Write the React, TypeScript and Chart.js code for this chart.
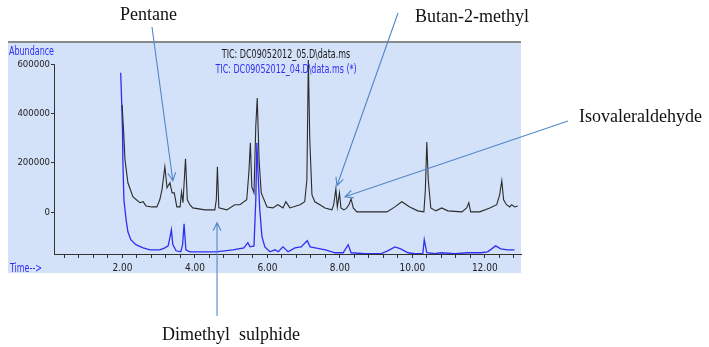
import React, { useEffect, useRef } from 'react';
import { Chart, registerables } from 'chart.js';

Chart.register(...registerables);

// ---- Data (retention time in minutes, abundance) ----
const tic05Times = [
  1.99, 2.03, 2.07, 2.15, 2.29, 2.48, 2.57, 2.65, 2.81, 2.95,
  3.03, 3.09, 3.17, 3.23, 3.31, 3.37, 3.43, 3.50, 3.59, 3.63,
  3.67, 3.74, 3.79, 3.86, 3.94, 4.28, 4.55, 4.59, 4.62, 4.66,
  4.88, 5.10, 5.24, 5.43, 5.49, 5.53, 5.57, 5.63, 5.68, 5.72,
  5.77, 5.83, 5.99, 6.15, 6.29, 6.43, 6.51, 6.62, 6.90, 7.03,
  7.09, 7.13, 7.17, 7.23, 7.31, 7.45, 7.59, 7.78, 7.83, 7.89,
  7.93, 7.99, 8.03, 8.11, 8.18, 8.25, 8.31, 8.37, 8.47, 9.30,
  9.52, 9.71, 9.93, 10.15, 10.32, 10.36, 10.40, 10.44, 10.51, 10.65,
  10.81, 10.98, 11.37, 11.50, 11.56, 11.61, 11.86, 12.14, 12.33, 12.41,
  12.47, 12.52, 12.60, 12.69, 12.74, 12.83, 12.91,
];
const tic05Values = [
  435000, 333000, 212000, 119000, 62000, 38000, 42000, 25000, 21000, 21000,
  50000, 90000, 184000, 99000, 119000, 78000, 78000, 21000, 21000, 82000,
  38000, 216000, 50000, 30000, 17000, 9000, 9000, 50000, 184000, 17000,
  9000, 30000, 30000, 50000, 163000, 281000, 102000, 78000, 350000, 463000,
  212000, 78000, 21000, 17000, 30000, 17000, 42000, 17000, 30000, 42000,
  131000, 617000, 293000, 70000, 42000, 30000, 17000, 9000, 30000, 94000,
  21000, 78000, 17000, 9000, 15000, 30000, 54000, 17000, 1000, 1000,
  21000, 42000, 21000, 5000, 1000, 90000, 284000, 131000, 17000, 5000,
  17000, 5000, 1000, 17000, 38000, 1000, 1000, 17000, 30000, 70000,
  127000, 50000, 30000, 21000, 30000, 21000, 25000,
];

// second run, drawn with the instrument's overlay offset (values as displayed)
const tic04Times = [
  1.95, 1.97, 2.00, 2.01, 2.04, 2.10, 2.15, 2.23, 2.37, 2.57,
  2.76, 3.03, 3.17, 3.26, 3.31, 3.35, 3.39, 3.48, 3.61, 3.66,
  3.70, 3.75, 3.86, 4.14, 4.58, 5.05, 5.35, 5.46, 5.52, 5.63,
  5.68, 5.71, 5.75, 5.79, 5.85, 5.93, 6.07, 6.21, 6.30, 6.43,
  6.57, 6.76, 6.93, 7.10, 7.18, 7.32, 7.60, 7.87, 8.09, 8.23,
  8.31, 8.69, 9.13, 9.32, 9.52, 9.68, 9.88, 10.07, 10.29, 10.33,
  10.40, 10.62, 10.79, 11.18, 11.53, 11.89, 12.08, 12.30, 12.44, 12.63,
  12.82,
];
const tic04Values = [
  565000, 483000, 333000, 212000, 50000, -31000, -80000, -112000, -132000, -145000,
  -153000, -153000, -145000, -137000, -104000, -72000, -132000, -157000, -161000, -132000,
  -47000, -153000, -161000, -161000, -161000, -153000, -145000, -124000, -141000, -137000,
  50000, 281000, 131000, 9000, -100000, -141000, -161000, -153000, -161000, -141000,
  -161000, -145000, -141000, -116000, -141000, -145000, -153000, -165000, -165000, -132000,
  -165000, -169000, -169000, -157000, -141000, -149000, -165000, -169000, -169000, -112000,
  -165000, -169000, -165000, -169000, -165000, -165000, -161000, -137000, -149000, -153000,
  -153000,
];

const seriesLabels = ['TIC: DC09052012_05.D\\data.ms', 'TIC: DC09052012_04.D\\data.ms (*)'];
const yTickValues = [0, 200000, 400000, 600000];
const xLabelValues = [2, 4, 6, 8, 10, 12];
const xMinorStep = 0.4;
const xMin = 0.11;
const xMax = 13.0;
const yMin = -170000;
const yMax = 686000;

// annotation labels and the (time, abundance) point each arrow points at
const annotationLabels = ['Pentane', 'Butan-2-methyl', 'Isovaleraldehyde', 'Dimethyl  sulphide'];
const annotationTargetTimes = [3.39, 7.92, 8.14, 4.61];
const annotationTargetValues = [127000, 107000, 62000, -43000];

const NARROW = '"DejaVu Sans Condensed", "Liberation Sans Narrow", sans-serif';
const SERIF = '"Liberation Serif", "Times New Roman", serif';
const BLUE_TEXT = '#2e2ef5';
const ARROW = '#5287c8';

function drawArrow(ctx: CanvasRenderingContext2D, x1: number, y1: number, x2: number, y2: number) {
  const ang = Math.atan2(y2 - y1, x2 - x1);
  const len = 9;
  const spread = 0.45;
  ctx.beginPath();
  ctx.moveTo(x1, y1);
  ctx.lineTo(x2, y2);
  ctx.moveTo(x2 - len * Math.cos(ang - spread), y2 - len * Math.sin(ang - spread));
  ctx.lineTo(x2, y2);
  ctx.lineTo(x2 - len * Math.cos(ang + spread), y2 - len * Math.sin(ang + spread));
  ctx.stroke();
}

// condensed instrument-style text (horizontally squeezed like the original software font)
function narrowText(
  ctx: CanvasRenderingContext2D,
  text: string,
  x: number,
  y: number,
  align: CanvasTextAlign,
  color: string
) {
  ctx.save();
  ctx.translate(x, y);
  ctx.scale(0.74, 1);
  ctx.font = '12px ' + NARROW;
  ctx.textBaseline = 'middle';
  ctx.textAlign = align;
  ctx.fillStyle = color;
  ctx.fillText(text, 0, 0);
  ctx.restore();
}

const panelPlugin = {
  id: 'chromPanel',
  beforeDraw(chart: any) {
    const ctx = chart.ctx as CanvasRenderingContext2D;
    ctx.save();
    ctx.fillStyle = '#ffffff';
    ctx.fillRect(0, 0, chart.width, chart.height);
    ctx.fillStyle = '#d3e2f8';
    ctx.fillRect(8, 42, 513, 231);
    ctx.fillStyle = '#8a8a8a';
    ctx.fillRect(8, 41, 513, 2);
    ctx.restore();
  },
  afterDraw(chart: any) {
    const ctx = chart.ctx as CanvasRenderingContext2D;
    const xs = chart.scales.x;
    const ys = chart.scales.y;
    const area = chart.chartArea;
    ctx.save();

    // y axis line (from top tick down to the time axis)
    ctx.strokeStyle = '#333333';
    ctx.lineWidth = 1;
    const ax = Math.round(area.left) + 0.5;
    ctx.beginPath();
    ctx.moveTo(ax, ys.getPixelForValue(yTickValues[yTickValues.length - 1]));
    ctx.lineTo(ax, area.bottom);
    ctx.stroke();

    // instrument texts
    narrowText(ctx, 'Abundance', 9, 52, 'left', BLUE_TEXT);
    narrowText(ctx, 'Time-->', 10, 269, 'left', BLUE_TEXT);
    narrowText(ctx, seriesLabels[0], 286, 55, 'center', '#1a1a1a');
    narrowText(ctx, seriesLabels[1], 286, 70, 'center', BLUE_TEXT);

    // annotations
    ctx.font = '18px ' + SERIF;
    ctx.fillStyle = '#111111';
    ctx.textAlign = 'left';
    ctx.textBaseline = 'middle';
    ctx.fillText(annotationLabels[0], 120, 15);
    ctx.fillText(annotationLabels[1], 415, 17);
    ctx.fillText(annotationLabels[2], 579, 117);
    ctx.fillText(annotationLabels[3], 162, 335);

    const tip = (i: number) => [
      xs.getPixelForValue(annotationTargetTimes[i]),
      ys.getPixelForValue(annotationTargetValues[i]),
    ];
    ctx.strokeStyle = ARROW;
    ctx.lineWidth = 1.1;
    let p = tip(0);
    drawArrow(ctx, 152, 27, p[0], p[1]);
    p = tip(1);
    drawArrow(ctx, 398, 13, p[0], p[1]);
    p = tip(2);
    drawArrow(ctx, 568, 121, p[0], p[1]);
    p = tip(3);
    drawArrow(ctx, p[0], 316, p[0], p[1]);

    ctx.restore();
  },
};

export default function App() {
  const canvasRef = useRef<HTMLCanvasElement | null>(null);

  useEffect(() => {
    if (!canvasRef.current) return;
    const tic05 = tic05Times.map((t, i) => ({ x: t, y: tic05Values[i] }));
    const tic04 = tic04Times.map((t, i) => ({ x: t, y: tic04Values[i] }));

    const chart = new Chart(canvasRef.current, {
      type: 'line',
      data: {
        datasets: [
          {
            label: seriesLabels[0],
            data: tic05,
            borderColor: '#2b2b2b',
            borderWidth: 1.1,
            pointRadius: 0,
            tension: 0,
            fill: false,
          },
          {
            label: seriesLabels[1],
            data: tic04,
            borderColor: '#2f2ff2',
            borderWidth: 1.3,
            pointRadius: 0,
            tension: 0,
            fill: false,
          },
        ],
      },
      options: {
        responsive: false,
        animation: false,
        events: [],
        layout: { padding: { left: 0, right: 188, top: 43, bottom: 0 } },
        plugins: {
          legend: { display: false },
          tooltip: { enabled: false },
          title: { display: false },
        },
        scales: {
          x: {
            type: 'linear',
            min: xMin,
            max: xMax,
            afterFit: (s: any) => {
              s.height = 93;
            },
            afterBuildTicks: (s: any) => {
              const ticks: { value: number }[] = [];
              for (let i = 1; i * xMinorStep <= xMax; i++) {
                ticks.push({ value: Math.round(i * xMinorStep * 100) / 100 });
              }
              s.ticks = ticks;
            },
            ticks: {
              autoSkip: false,
              maxRotation: 0,
              minRotation: 0,
              padding: 4,
              color: '#222222',
              font: { family: NARROW, size: 10 },
              callback: (v: any) => {
                const n = Math.round(Number(v) * 100) / 100;
                return xLabelValues.includes(n) ? n.toFixed(2) : '';
              },
            },
            grid: { drawOnChartArea: false, drawTicks: true, tickLength: 4, color: '#333333' },
            border: { display: true, color: '#333333', width: 1 },
          },
          y: {
            type: 'linear',
            min: yMin,
            max: yMax,
            afterFit: (s: any) => {
              s.width = 54;
            },
            afterBuildTicks: (s: any) => {
              s.ticks = yTickValues.map((v) => ({ value: v }));
            },
            ticks: {
              padding: 1,
              color: '#222222',
              font: { family: NARROW, size: 9.5 },
              callback: (v: any) => String(v),
            },
            grid: { drawOnChartArea: false, drawTicks: true, tickLength: 3, color: '#333333' },
            border: { display: false },
          },
        },
      },
      plugins: [panelPlugin],
    });
    return () => chart.destroy();
  }, []);

  return (
    <div style={{ position: 'absolute', left: 0, top: 0, width: 709, height: 347, background: '#ffffff' }}>
      <canvas ref={canvasRef} width={709} height={347} style={{ display: 'block' }} />
    </div>
  );
}
